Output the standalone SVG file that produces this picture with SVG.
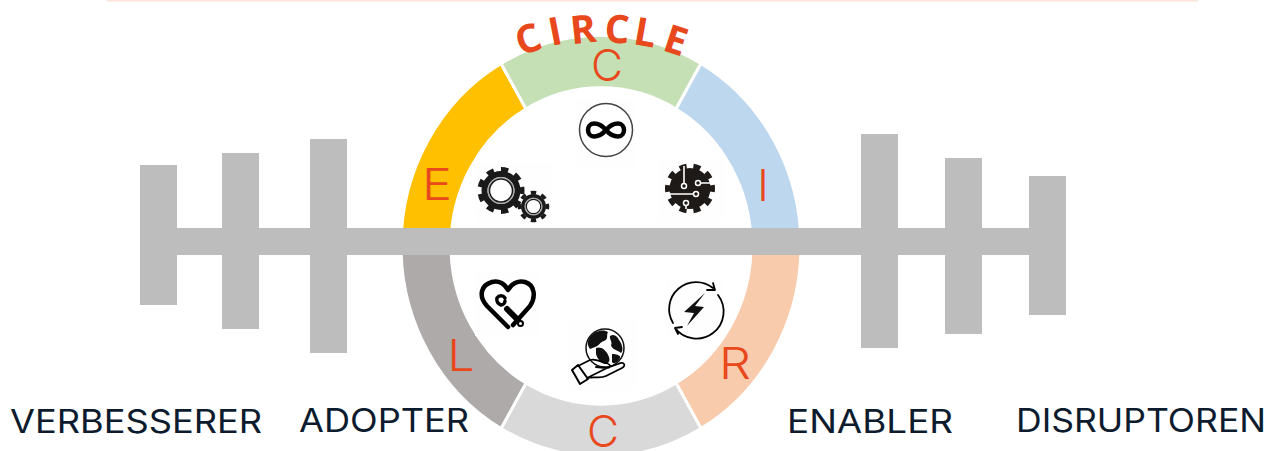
<svg xmlns="http://www.w3.org/2000/svg" width="1267" height="451" viewBox="0 0 1267 451">
<style>
.seg{stroke:#fff;stroke-width:3}
.bar{fill:#bdbdbd}
.let{font-family:"Inter","Liberation Sans",sans-serif;font-weight:300;font-size:44px;fill:#e8481c;text-anchor:middle}
.lab{font-family:"Inter","Liberation Sans",sans-serif;font-weight:400;font-size:32px;fill:#0d1b2e}
.arc{font-family:"Open Sans","Liberation Sans",sans-serif;font-weight:700;font-size:39px;fill:#e8481c;text-anchor:middle}
.ln{fill:none;stroke:#000;stroke-linecap:round;stroke-linejoin:round}
.wl{fill:none;stroke:#fff;stroke-width:1.6}
.nd{fill:#1e1a18;stroke:#fff;stroke-width:1.500}
.bg{fill:#fefefe}
</style>
<rect x="107" y="0" width="1091" height="1.5" fill="#fbe3da"/>
<g id="ring">
<path id="seg-e" class="seg" fill="#ffc000" d="M401 246A200 211 0 0 1 501 63.500L526 109A150 158 0 0 0 451 246Z"/>
<path id="seg-c1" class="seg" fill="#c5e0b4" d="M501 63.500A200 211 0 0 1 701 63.500L676 109A150 158 0 0 0 526 109Z"/>
<path id="seg-i" class="seg" fill="#bdd7ee" d="M701 63.500A200 211 0 0 1 801 246L751 246A150 158 0 0 0 676 109Z"/>
<path id="seg-r" class="seg" fill="#f8cbad" d="M801 246A200 211 0 0 1 701 428.500L676 383A150 158 0 0 0 751 246Z"/>
<path id="seg-c2" class="seg" fill="#d9d9d9" d="M701 428.500A200 211 0 0 1 501 428.500L526 383A150 158 0 0 0 676 383Z"/>
<path id="seg-l" class="seg" fill="#aeaaaa" d="M501 428.500A200 211 0 0 1 401 246L451 246A150 158 0 0 0 526 383Z"/>
</g>
<g id="connectors">
<rect class="bar" x="140" y="228" width="926" height="27"/>
<rect class="bar" x="140" y="165" width="37" height="140"/>
<rect class="bar" x="222" y="153" width="37" height="176"/>
<rect class="bar" x="310" y="139" width="37" height="214"/>
<rect class="bar" x="861" y="134" width="37" height="214"/>
<rect class="bar" x="945" y="158" width="37" height="176"/>
<rect class="bar" x="1029" y="176" width="37" height="139"/>
</g>
<g id="title">
<text class="arc" transform="translate(532.600 52) rotate(-19)">C</text>
<text class="arc" transform="translate(557.700 44.700) rotate(-11)">I</text>
<text class="arc" transform="translate(584.500 43) rotate(-6)">R</text>
<text class="arc" transform="translate(616.300 43) rotate(3)">C</text>
<text class="arc" transform="translate(643 46) rotate(10)">L</text>
<text class="arc" transform="translate(671.700 53.300) rotate(18)">E</text>
</g>
<g id="letters">
<text class="let" x="437" y="200" textLength="30" lengthAdjust="spacingAndGlyphs">E</text>
<text class="let" x="607" y="81">C</text>
<text class="let" x="763" y="201">I</text>
<text class="let" x="461" y="371" textLength="27" lengthAdjust="spacingAndGlyphs">L</text>
<text class="let" x="735" y="379" textLength="32" lengthAdjust="spacingAndGlyphs">R</text>
<text class="let" x="603" y="447">C</text>
</g>
<g id="icon-infinity">
<rect class="bg" x="575" y="99" width="60" height="68"/>
<circle cx="606" cy="130" r="26.500" fill="#fff" stroke="#444" stroke-width="1.500"/>
<path class="ln" stroke-width="4.500" d="M606 130C601 124 597 123.500 594 123.500C590 123.500 588 127 588 130C588 133 590 136.500 594 136.500C597 136.500 601 136 606 130C611 124 615 123.500 618 123.500C622 123.500 624 127 624 130C624 133 622 136.500 618 136.500C615 136.500 611 136 606 130Z"/>
</g>
<g id="icon-gears">
<rect class="bg" x="475" y="163" width="78" height="59"/>
<circle cx="501" cy="190.500" r="16.500" fill="none" stroke="#1a1a1a" stroke-width="6"/>
<circle cx="501" cy="190.500" r="21" fill="none" stroke="#1a1a1a" stroke-width="5" pathLength="18" stroke-dasharray="1" stroke-dashoffset="0.500"/>
<circle cx="501" cy="190.500" r="12.800" fill="none" stroke="#aaa" stroke-width="1.500"/>
<circle cx="501" cy="190.500" r="11.500" fill="none" stroke="#1a1a1a" stroke-width="1.500"/>
<circle cx="533.500" cy="206.500" r="10.500" fill="none" stroke="#1a1a1a" stroke-width="4"/>
<circle cx="533.500" cy="206.500" r="14" fill="none" stroke="#1a1a1a" stroke-width="3.500" pathLength="16" stroke-dasharray="1" stroke-dashoffset="0.500"/>
<circle cx="533.500" cy="206.500" r="8.500" fill="none" stroke="#aaa" stroke-width="1.200"/>
<circle cx="533.500" cy="206.500" r="7.200" fill="none" stroke="#1a1a1a" stroke-width="1.200"/>
</g>
<g id="icon-chip">
<rect class="bg" x="658" y="158" width="67" height="64"/>
<circle cx="690" cy="188.500" r="20.500" fill="#1e1a18"/>
<circle cx="690" cy="188.500" r="22.500" fill="none" stroke="#1e1a18" stroke-width="5" pathLength="20" stroke-dasharray="1" stroke-dashoffset="0.500"/>
<path class="wl" d="M684 166V184M699 183H712M668 194H695M686 203V209"/>
<circle class="nd" cx="684" cy="186" r="2.500"/>
<circle class="nd" cx="698" cy="183" r="2.500"/>
<circle class="nd" cx="696" cy="194" r="2.500"/>
<circle class="nd" cx="686" cy="203" r="2.500"/>
</g>
<g id="icon-heart">
<rect class="bg" x="475" y="270" width="64" height="66"/>
<path class="ln" stroke-width="4.500" d="M508 327L487 306C478 296 481 285 492 282C499 280 505 284 508 290C511 284 518 280 525 282C535 285 536 297 530 306L513 325"/>
<path class="ln" stroke-width="3.500" d="M505 298C503 295 499 295 497 298C496 301 498 304 501 305C503 305 505 303 505 301"/>
<path class="ln" stroke-width="6" d="M507 309L518 320"/>
<circle cx="520.500" cy="323.500" r="2.500" fill="#fff" stroke="#000" stroke-width="2"/>
</g>
<g id="icon-energy">
<rect class="bg" x="667" y="280" width="55" height="58"/>
<path class="ln" stroke-width="1.800" d="M673 323A27 27 0 0 1 713 288M718 295A27 27 0 0 1 675 328M713 283L715 290L707 290M682 327L675 328L678 334"/>
<path d="M705 293L684 312L694 313L687 326L704 307L695 306Z" fill="#111"/>
</g>
<g id="icon-earth">
<rect class="bg" x="567" y="320" width="70" height="70"/>
<circle cx="605" cy="348" r="19" fill="#fff" stroke="#111" stroke-width="1.500"/>
<path d="M590 337C595 330 604 329 608 332C606 335 609 339 604 341C600 342 599 346 595 347L590 349C587 345 587 341 590 337ZM596 348C601 346 605 350 607 353C610 358 611 362 606 364C601 364 597 358 596 354ZM610 336C614 333 618 337 619 340C622 344 624 350 621 353C618 350 612 350 611 345C613 342 609 339 610 336ZM612 354C616 354 621 355 620 358C618 362 614 365 612 362Z" fill="#111"/>
<path fill="#fff" class="ln" stroke-width="1.800" d="M578 366L590 360C596 358 600 362 606 363C612 365 611 368 606 368L596 367M607 368L618 364C625 361 626 366 622 368L606 376C600 379 595 376 587 378Z"/>
<path fill="#fff" class="ln" stroke-width="2" d="M572 370L578 365L588 379L580 384Z"/>
</g>
<g id="labels">
<text class="lab" x="10" y="433" textLength="252" lengthAdjust="spacingAndGlyphs">VERBESSERER</text>
<text class="lab" x="299" y="432" textLength="170" lengthAdjust="spacingAndGlyphs">ADOPTER</text>
<text class="lab" x="787" y="433" textLength="166" lengthAdjust="spacingAndGlyphs">ENABLER</text>
<text class="lab" x="1016" y="432" textLength="250" lengthAdjust="spacingAndGlyphs">DISRUPTOREN</text>
</g>
</svg>
